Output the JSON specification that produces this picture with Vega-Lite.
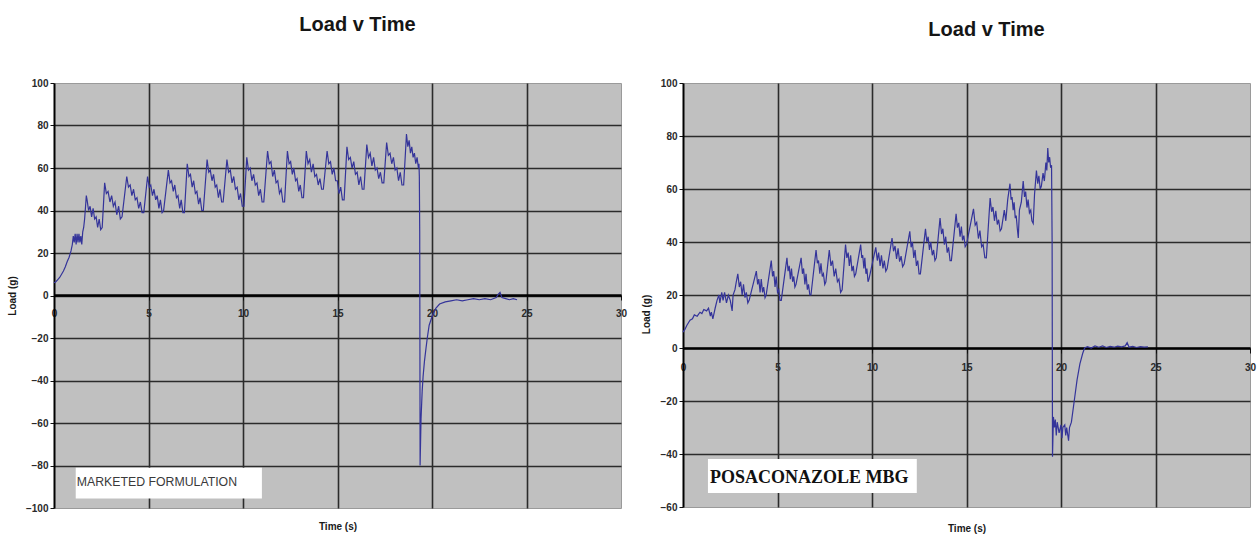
{
  "$schema": "https://vega.github.io/schema/vega-lite/v6.json",
  "background": "white",
  "padding": {"left": 6, "top": 14, "right": 0, "bottom": 0},
  "spacing": 12,
  "config": {
    "view": {"fill": "#c0c0c0", "stroke": "#9a9a9a", "strokeWidth": 1},
    "axis": {
      "labelFont": "Liberation Sans", "labelFontSize": 10, "labelFontWeight": "bold", "labelColor": "#2a2a2a",
      "titleFont": "Liberation Sans", "titleFontSize": 10, "titleFontWeight": "bold", "titleColor": "#1a1a1a",
      "domainColor": "#000000", "tickColor": "#111111", "gridColor": "#2b2b2b", "gridWidth": 1.6,
      "labelFlush": false, "labelOverlap": false
    },
    "title": {"font": "Liberation Sans", "fontSize": 20, "fontWeight": "bold", "color": "#151515", "offset": 43, "dx": 20}
  },
  "datasets": {
    "left": [
      {"time":0,"load":6},{"time":0.1,"load":6.5},{"time":0.2,"load":7.5},{"time":0.3,"load":8.5},{"time":0.4,"load":10},{"time":0.5,"load":11.5},{"time":0.6,"load":13.5},{"time":0.7,"load":16},{"time":0.8,"load":18},{"time":0.9,"load":21},{"time":0.97,"load":24},{"time":1.02,"load":28},{"time":1.07,"load":25},{"time":1.12,"load":29},{"time":1.17,"load":24},{"time":1.22,"load":29},{"time":1.27,"load":25},{"time":1.32,"load":29},{"time":1.37,"load":25},{"time":1.42,"load":28},{"time":1.47,"load":24},{"time":1.52,"load":30},{"time":1.57,"load":32},{"time":1.62,"load":36},{"time":1.67,"load":42},{"time":1.71,"load":47},
      {"time":1.75,"load":45},{"time":1.83,"load":40},{"time":1.91,"load":42},{"time":1.99,"load":37},{"time":2.07,"load":41},{"time":2.15,"load":36},{"time":2.23,"load":37},{"time":2.31,"load":32},{"time":2.39,"load":36},{"time":2.47,"load":31},{"time":2.55,"load":32},
      {"time":2.68,"load":53},{"time":2.77,"load":48},{"time":2.86,"load":49},{"time":2.96,"load":44},{"time":3.05,"load":47},{"time":3.14,"load":42},{"time":3.23,"load":44},{"time":3.32,"load":38},{"time":3.42,"load":42},{"time":3.51,"load":36},{"time":3.6,"load":37},
      {"time":3.85,"load":56},{"time":3.94,"load":51},{"time":4.03,"load":52},{"time":4.12,"load":47},{"time":4.21,"load":50},{"time":4.3,"load":45},{"time":4.39,"load":46},{"time":4.48,"load":41},{"time":4.57,"load":44},{"time":4.66,"load":39},{"time":4.75,"load":39},
      {"time":4.95,"load":56},{"time":5.04,"load":51},{"time":5.12,"load":52},{"time":5.21,"load":47},{"time":5.29,"load":50},{"time":5.38,"load":45},{"time":5.46,"load":47},{"time":5.55,"load":41},{"time":5.63,"load":45},{"time":5.72,"load":39},{"time":5.8,"load":40},
      {"time":6.05,"load":59},{"time":6.14,"load":53},{"time":6.22,"load":54},{"time":6.31,"load":49},{"time":6.39,"load":52},{"time":6.48,"load":46},{"time":6.56,"load":47},{"time":6.65,"load":41},{"time":6.73,"load":45},{"time":6.82,"load":39},{"time":6.9,"load":39},
      {"time":7.05,"load":62},{"time":7.14,"load":56},{"time":7.22,"load":57},{"time":7.31,"load":51},{"time":7.39,"load":54},{"time":7.48,"load":48},{"time":7.56,"load":49},{"time":7.65,"load":43},{"time":7.73,"load":46},{"time":7.82,"load":40},{"time":7.9,"load":40},
      {"time":8.1,"load":64},{"time":8.19,"load":58},{"time":8.27,"load":59},{"time":8.36,"load":54},{"time":8.44,"load":57},{"time":8.53,"load":51},{"time":8.61,"load":52},{"time":8.7,"load":46},{"time":8.78,"load":50},{"time":8.87,"load":44},{"time":8.95,"load":44},
      {"time":9.15,"load":64},{"time":9.24,"load":58},{"time":9.33,"load":59},{"time":9.42,"load":53},{"time":9.51,"load":56},{"time":9.6,"load":50},{"time":9.69,"load":51},{"time":9.78,"load":45},{"time":9.87,"load":48},{"time":9.96,"load":42},{"time":10.05,"load":42},
      {"time":10.2,"load":65},{"time":10.29,"load":59},{"time":10.38,"load":60},{"time":10.47,"load":54},{"time":10.56,"load":57},{"time":10.65,"load":52},{"time":10.74,"load":53},{"time":10.83,"load":47},{"time":10.92,"load":50},{"time":11.01,"load":44},{"time":11.1,"load":44},
      {"time":11.3,"load":68},{"time":11.39,"load":62},{"time":11.48,"load":63},{"time":11.57,"load":56},{"time":11.66,"load":59},{"time":11.75,"load":53},{"time":11.84,"load":54},{"time":11.93,"load":48},{"time":12.02,"load":50},{"time":12.11,"load":44},{"time":12.2,"load":44},
      {"time":12.35,"load":68},{"time":12.44,"load":62},{"time":12.52,"load":63},{"time":12.61,"load":57},{"time":12.69,"load":60},{"time":12.78,"load":54},{"time":12.86,"load":55},{"time":12.95,"load":49},{"time":13.03,"load":52},{"time":13.12,"load":46},{"time":13.2,"load":46},
      {"time":13.35,"load":68},{"time":13.44,"load":62},{"time":13.53,"load":64},{"time":13.62,"load":58},{"time":13.71,"load":62},{"time":13.8,"load":56},{"time":13.89,"load":57},{"time":13.98,"load":52},{"time":14.07,"load":55},{"time":14.16,"load":50},{"time":14.25,"load":50},
      {"time":14.45,"load":68},{"time":14.54,"load":62},{"time":14.63,"load":63},{"time":14.72,"load":57},{"time":14.81,"load":60},{"time":14.9,"load":54},{"time":14.99,"load":54},{"time":15.08,"load":48},{"time":15.17,"load":51},{"time":15.26,"load":45},{"time":15.35,"load":45},
      {"time":15.5,"load":70},{"time":15.59,"load":64},{"time":15.68,"load":65},{"time":15.77,"load":60},{"time":15.86,"load":63},{"time":15.95,"load":57},{"time":16.04,"load":58},{"time":16.13,"load":52},{"time":16.22,"load":56},{"time":16.31,"load":50},{"time":16.4,"load":50},
      {"time":16.55,"load":71},{"time":16.64,"load":65},{"time":16.73,"load":67},{"time":16.82,"load":61},{"time":16.91,"load":65},{"time":17.0,"load":59},{"time":17.09,"load":60},{"time":17.18,"load":55},{"time":17.27,"load":58},{"time":17.36,"load":53},{"time":17.45,"load":53},
      {"time":17.6,"load":72},{"time":17.69,"load":66},{"time":17.78,"load":67},{"time":17.87,"load":62},{"time":17.96,"load":65},{"time":18.05,"load":59},{"time":18.14,"load":60},{"time":18.23,"load":54},{"time":18.32,"load":58},{"time":18.41,"load":52},{"time":18.5,"load":52},
      {"time":18.65,"load":76},{"time":18.72,"load":70},{"time":18.79,"load":73},{"time":18.86,"load":67},{"time":18.93,"load":70},{"time":19.0,"load":65},{"time":19.07,"load":67},{"time":19.14,"load":62},{"time":19.21,"load":65},{"time":19.28,"load":60},{"time":19.31,"load":62},
      {"time":19.33,"load":56},{"time":19.35,"load":30},{"time":19.36,"load":-20},{"time":19.37,"load":-80},{"time":19.42,"load":-58},{"time":19.48,"load":-45},{"time":19.53,"load":-38},{"time":19.6,"load":-31},{"time":19.68,"load":-25},{"time":19.75,"load":-20},{"time":19.85,"load":-14},{"time":20.0,"load":-10},{"time":20.2,"load":-6},{"time":20.4,"load":-4},{"time":20.7,"load":-3},{"time":21.0,"load":-2.5},{"time":21.3,"load":-2},{"time":21.6,"load":-2.5},{"time":21.9,"load":-2},{"time":22.2,"load":-1.5},{"time":22.5,"load":-2},{"time":22.8,"load":-1.5},{"time":23.1,"load":-2},{"time":23.4,"load":-1},{"time":23.5,"load":0.5},{"time":23.6,"load":1.5},{"time":23.7,"load":-1},{"time":23.9,"load":-1.5},{"time":24.1,"load":-2},{"time":24.3,"load":-1.5},{"time":24.5,"load":-2}
    ],
    "right": [
      {"time":0,"load":6},{"time":0.1,"load":7},{"time":0.2,"load":8.5},{"time":0.37,"load":10.5},{"time":0.5,"load":11},{"time":0.6,"load":12.5},{"time":0.75,"load":12},{"time":0.9,"load":13.5},{"time":1.0,"load":13},{"time":1.1,"load":14.5},{"time":1.25,"load":14},{"time":1.35,"load":15},{"time":1.45,"load":12},{"time":1.5,"load":13.5},{"time":1.58,"load":11},{"time":1.7,"load":15},{"time":1.8,"load":18},{"time":1.9,"load":20},{"time":1.95,"load":17},{"time":2.05,"load":21},{"time":2.12,"load":18},{"time":2.2,"load":21},{"time":2.3,"load":17},{"time":2.4,"load":20},{"time":2.5,"load":18},{"time":2.6,"load":14},{"time":2.65,"load":20},{"time":2.75,"load":22},{"time":2.82,"load":25},
      {"time":2.9,"load":28},{"time":2.98,"load":23},{"time":3.05,"load":25},{"time":3.13,"load":20},{"time":3.2,"load":24},{"time":3.28,"load":19},{"time":3.35,"load":21},{"time":3.43,"load":17},{"time":3.5,"load":18},
      {"time":3.88,"load":29},{"time":3.95,"load":24},{"time":4.01,"load":26},{"time":4.08,"load":21},{"time":4.14,"load":26},{"time":4.21,"load":21},{"time":4.27,"load":23},{"time":4.34,"load":19},{"time":4.4,"load":20},
      {"time":4.67,"load":33},{"time":4.74,"load":27},{"time":4.8,"load":29},{"time":4.87,"load":23},{"time":4.93,"load":27},{"time":5.0,"load":21},{"time":5.07,"load":22},{"time":5.13,"load":18},{"time":5.2,"load":18},
      {"time":5.5,"load":34},{"time":5.56,"load":29},{"time":5.62,"load":31},{"time":5.68,"load":26},{"time":5.74,"load":30},{"time":5.8,"load":25},{"time":5.86,"load":27},{"time":5.92,"load":23},{"time":5.98,"load":24},
      {"time":6.25,"load":34},{"time":6.32,"load":28},{"time":6.38,"load":30},{"time":6.45,"load":24},{"time":6.51,"load":28},{"time":6.58,"load":22},{"time":6.64,"load":24},{"time":6.71,"load":20},{"time":6.77,"load":20},
      {"time":7.04,"load":37},{"time":7.11,"load":32},{"time":7.17,"load":33},{"time":7.24,"load":28},{"time":7.3,"load":32},{"time":7.37,"load":27},{"time":7.43,"load":28},{"time":7.5,"load":24},{"time":7.56,"load":25},
      {"time":7.74,"load":37},{"time":7.83,"load":31},{"time":7.91,"load":33},{"time":8.0,"load":27},{"time":8.08,"load":30},{"time":8.17,"load":25},{"time":8.25,"load":26},{"time":8.34,"load":21},{"time":8.42,"load":22},
      {"time":8.6,"load":39},{"time":8.67,"load":34},{"time":8.74,"load":36},{"time":8.8,"load":31},{"time":8.87,"load":35},{"time":8.94,"load":29},{"time":9.01,"load":31},{"time":9.07,"load":27},{"time":9.14,"load":28},
      {"time":9.4,"load":39},{"time":9.46,"load":34},{"time":9.51,"load":35},{"time":9.57,"load":30},{"time":9.62,"load":34},{"time":9.68,"load":28},{"time":9.73,"load":30},{"time":9.79,"load":25},{"time":9.84,"load":26},
      {"time":10.2,"load":38},{"time":10.28,"load":33},{"time":10.35,"load":36},{"time":10.43,"load":31},{"time":10.5,"load":35},{"time":10.58,"load":30},{"time":10.65,"load":33},{"time":10.73,"load":29},{"time":10.8,"load":30},
      {"time":11.06,"load":41.5},{"time":11.14,"load":36.5},{"time":11.22,"load":38.5},{"time":11.3,"load":33.6},{"time":11.38,"load":37.6},{"time":11.46,"load":32.6},{"time":11.54,"load":34.7},{"time":11.62,"load":30.7},{"time":11.7,"load":31.7},
      {"time":12.0,"load":44},{"time":12.07,"load":38},{"time":12.14,"load":40},{"time":12.21,"load":34},{"time":12.28,"load":37},{"time":12.35,"load":31},{"time":12.42,"load":33},{"time":12.49,"load":28},{"time":12.56,"load":28},
      {"time":12.83,"load":45},{"time":12.9,"load":40},{"time":12.97,"load":42},{"time":13.04,"load":37},{"time":13.11,"load":40},{"time":13.19,"load":35},{"time":13.26,"load":37},{"time":13.33,"load":33},{"time":13.4,"load":34},
      {"time":13.6,"load":49},{"time":13.68,"load":43},{"time":13.75,"load":45},{"time":13.83,"load":39},{"time":13.9,"load":42},{"time":13.98,"load":36},{"time":14.05,"load":38},{"time":14.13,"load":33},{"time":14.2,"load":33},
      {"time":14.45,"load":50.6},{"time":14.52,"load":45.4},{"time":14.59,"load":47.2},{"time":14.66,"load":42},{"time":14.73,"load":45.8},{"time":14.79,"load":40.6},{"time":14.86,"load":42.4},{"time":14.93,"load":38.2},{"time":15.0,"load":39},
      {"time":15.37,"load":52.5},{"time":15.46,"load":46.4},{"time":15.54,"load":47.4},{"time":15.63,"load":41.3},{"time":15.71,"load":44.3},{"time":15.8,"load":38.2},{"time":15.88,"load":39.1},{"time":15.97,"load":34.1},{"time":16.05,"load":34},
      {"time":16.25,"load":56.6},{"time":16.33,"load":51.4},{"time":16.4,"load":53.2},{"time":16.48,"load":48},{"time":16.55,"load":51.8},{"time":16.63,"load":46.6},{"time":16.7,"load":48.4},{"time":16.78,"load":44.2},{"time":16.85,"load":45},
      {"time":17.0,"load":52},{"time":17.08,"load":48},{"time":17.18,"load":56},
      {"time":17.3,"load":62},{"time":17.36,"load":56},{"time":17.41,"load":57},{"time":17.47,"load":52},{"time":17.52,"load":55},{"time":17.58,"load":49},{"time":17.63,"load":50},{"time":17.69,"load":45},{"time":17.74,"load":41.5},
      {"time":17.8,"load":52},{"time":17.9,"load":55},
      {"time":18.0,"load":63},{"time":18.07,"load":57},{"time":18.13,"load":59},{"time":18.2,"load":53},{"time":18.26,"load":56},{"time":18.33,"load":51},{"time":18.4,"load":52},{"time":18.46,"load":48},{"time":18.53,"load":47},
      {"time":18.6,"load":58},
      {"time":18.7,"load":67},{"time":18.77,"load":62},{"time":18.83,"load":65},{"time":18.9,"load":60},{"time":18.96,"load":61},{"time":19.05,"load":66},{"time":19.12,"load":63},{"time":19.2,"load":70},{"time":19.25,"load":67},{"time":19.3,"load":75.5},{"time":19.35,"load":70},{"time":19.4,"load":72},{"time":19.45,"load":68},{"time":19.5,"load":69},
      {"time":19.53,"load":40},{"time":19.55,"load":-41},{"time":19.6,"load":-26},{"time":19.65,"load":-30},{"time":19.7,"load":-27},{"time":19.75,"load":-33},{"time":19.8,"load":-28},{"time":19.9,"load":-32},{"time":20.0,"load":-29},{"time":20.05,"load":-34},{"time":20.1,"load":-30},{"time":20.2,"load":-29},{"time":20.25,"load":-33},{"time":20.3,"load":-30},{"time":20.4,"load":-35},{"time":20.45,"load":-30},{"time":20.55,"load":-28},{"time":20.7,"load":-20},{"time":20.85,"load":-12},{"time":21.0,"load":-6},{"time":21.15,"load":-2},{"time":21.25,"load":0},{"time":21.4,"load":0.5},{"time":21.6,"load":0},{"time":21.8,"load":0.8},{"time":22.0,"load":0.3},{"time":22.2,"load":0.8},{"time":22.4,"load":0.2},{"time":22.6,"load":0.6},{"time":22.8,"load":0.3},{"time":23.0,"load":0.7},{"time":23.2,"load":0.4},{"time":23.4,"load":0.8},{"time":23.5,"load":2},{"time":23.6,"load":0.3},{"time":23.8,"load":0.6},{"time":24.0,"load":0.2},{"time":24.2,"load":0.5},{"time":24.4,"load":0.3},{"time":24.6,"load":0.4}
    ],
    "leftNote": [{"x_start": 1.15, "x_end": 11.0, "y_top": -81, "y_bottom": -95.5, "label": "MARKETED FORMULATION"}],
    "rightNote": [{"x_start": 1.32, "x_end": 12.37, "y_top": -41.9, "y_bottom": -54.7, "label": "POSACONAZOLE MBG"}]
  },
  "hconcat": [
    {
      "width": 567,
      "height": 425,
      "title": {"text": "Load v Time"},
      "layer": [
        {
          "data": {"name": "left"},
          "mark": {"type": "line", "color": "#34349a", "strokeWidth": 1.2},
          "encoding": {
            "x": {"field": "time", "type": "quantitative", "title": "Time (s)",
              "scale": {"domain": [0, 30], "nice": false},
              "axis": {"values": [0, 5, 10, 15, 20, 25, 30], "offset": -213, "titleY": 231, "titleBaseline": "middle",
                "domainWidth": 2.6, "tickSize": 5, "labelPadding": 8,
                "gridOpacity": {"condition": {"test": "datum.value == 0 || datum.value == 30", "value": 0}, "value": 1}}},
            "y": {"field": "load", "type": "quantitative", "title": "Load (g)",
              "scale": {"domain": [-100, 100], "nice": false},
              "axis": {"values": [-100, -80, -60, -40, -20, 0, 20, 40, 60, 80, 100], "domainWidth": 2, "tickSize": 4, "labelPadding": 2,
                "titleX": -42, "titleBaseline": "middle",
                "gridOpacity": {"condition": {"test": "abs(datum.value) == 100", "value": 0}, "value": 1}}}
          }
        },
        {
          "data": {"name": "leftNote"},
          "mark": {"type": "rect", "fill": "#ffffff"},
          "encoding": {
            "x": {"field": "x_start", "type": "quantitative", "title": "Time (s)"},
            "x2": {"field": "x_end"},
            "y": {"field": "y_top", "type": "quantitative", "title": "Load (g)"},
            "y2": {"field": "y_bottom"}
          }
        },
        {
          "data": {"name": "leftNote"},
          "mark": {"type": "text", "align": "left", "baseline": "alphabetic", "dx": 1, "dy": 18, "font": "Liberation Sans", "fontSize": 12.3, "color": "#3a3a3a"},
          "encoding": {
            "x": {"field": "x_start", "type": "quantitative", "title": "Time (s)"},
            "y": {"field": "y_top", "type": "quantitative", "title": "Load (g)"},
            "text": {"field": "label"}
          }
        }
      ]
    },
    {
      "width": 567,
      "height": 424,
      "title": {"text": "Load v Time", "offset": 38},
      "layer": [
        {
          "data": {"name": "right"},
          "mark": {"type": "line", "color": "#34349a", "strokeWidth": 1.2},
          "encoding": {
            "x": {"field": "time", "type": "quantitative", "title": "Time (s)",
              "scale": {"domain": [0, 30], "nice": false},
              "axis": {"values": [0, 5, 10, 15, 20, 25, 30], "offset": -159, "titleY": 180, "titleBaseline": "middle",
                "domainWidth": 2.6, "tickSize": 5, "labelPadding": 9,
                "gridOpacity": {"condition": {"test": "datum.value == 0 || datum.value == 30", "value": 0}, "value": 1}}},
            "y": {"field": "load", "type": "quantitative", "title": "Load (g)",
              "scale": {"domain": [-60, 100], "nice": false},
              "axis": {"values": [-60, -40, -20, 0, 20, 40, 60, 80, 100], "domainWidth": 2, "tickSize": 4, "labelPadding": 2,
                "titleX": -37, "titleY": 231, "titleBaseline": "middle",
                "gridOpacity": {"condition": {"test": "datum.value == -60 || datum.value == 100", "value": 0}, "value": 1}}}
          }
        },
        {
          "data": {"name": "rightNote"},
          "mark": {"type": "rect", "fill": "#ffffff"},
          "encoding": {
            "x": {"field": "x_start", "type": "quantitative", "title": "Time (s)"},
            "x2": {"field": "x_end"},
            "y": {"field": "y_top", "type": "quantitative", "title": "Load (g)"},
            "y2": {"field": "y_bottom"}
          }
        },
        {
          "data": {"name": "rightNote"},
          "mark": {"type": "text", "align": "left", "baseline": "alphabetic", "dx": 2, "dy": 24, "font": "Liberation Serif", "fontSize": 18, "fontWeight": "bold", "color": "#111111"},
          "encoding": {
            "x": {"field": "x_start", "type": "quantitative", "title": "Time (s)"},
            "y": {"field": "y_top", "type": "quantitative", "title": "Load (g)"},
            "text": {"field": "label"}
          }
        }
      ]
    }
  ]
}
